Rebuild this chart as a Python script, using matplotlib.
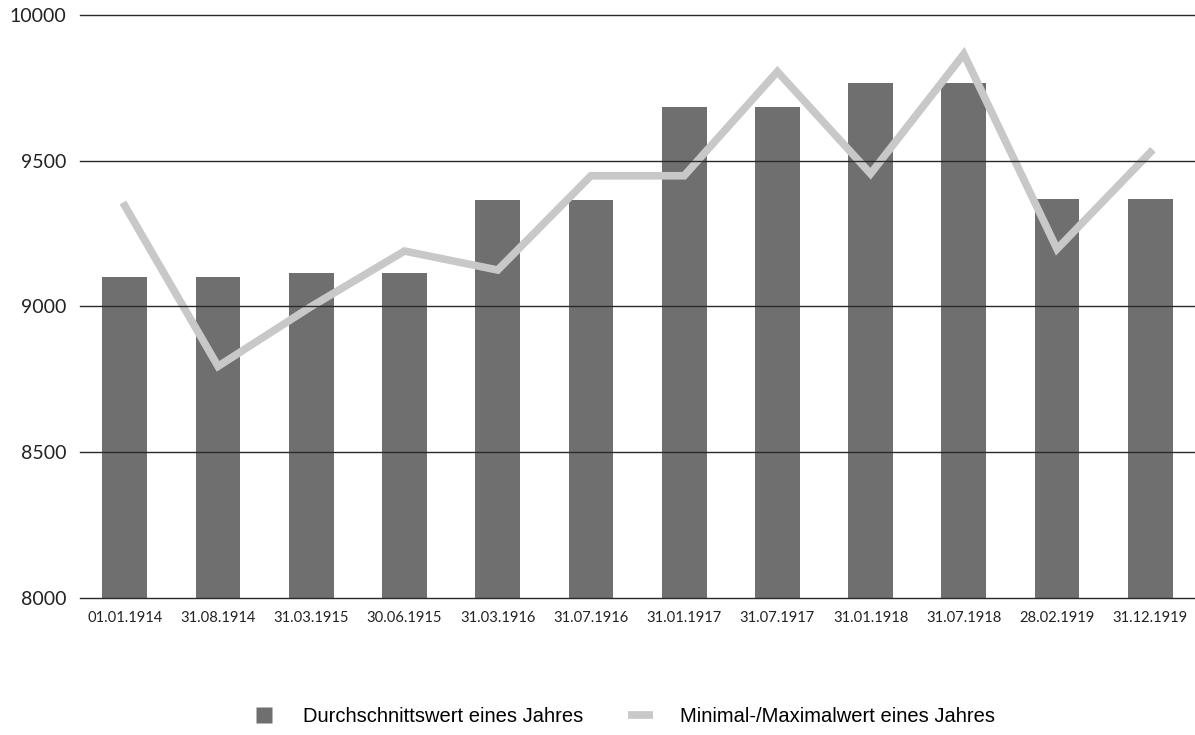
import numpy as np
import matplotlib.pyplot as plt
from matplotlib.lines import Line2D

# Stichtage
dates = ['01.01.1914', '31.08.1914', '31.03.1915', '30.06.1915', '31.03.1916',
         '31.07.1916', '31.01.1917', '31.07.1917', '31.01.1918', '31.07.1918',
         '28.02.1919', '31.12.1919']
# Durchschnittswert eines Jahres (bars)
avg_vals = [9100, 9100, 9115, 9115, 9365, 9365, 9685, 9685, 9767, 9767, 9368, 9368]
# Minimal-/Maximalwert eines Jahres (line)
minmax_vals = [9345, 8795, 9000, 9190, 9125, 9448, 9448, 9805, 9455, 9865, 9197, 9528]

yticks = [8000, 8500, 9000, 9500, 10000]

bar_color = '#6f6f6f'
line_color = '#c8c8c8'

fig = plt.figure(figsize=(11.95, 7.35), dpi=100)
ax = fig.add_axes([0.067, 0.186, 0.933, 0.794])

x = np.arange(len(dates))
ax.bar(x, [v - 8000 for v in avg_vals], bottom=8000, width=0.48,
       color=bar_color, zorder=1)
ax.plot(x, minmax_vals, color=line_color, linewidth=5.5, zorder=2,
        solid_joinstyle='miter')

for t in yticks:
    ax.axhline(t, color='#2a2a2a', linewidth=1.0, zorder=3, clip_on=False)

ax.set_xlim(-0.48, 11.48)
ax.set_ylim(8000, 10000)
ax.set_yticks(yticks)
ax.set_yticklabels([str(t) for t in yticks], fontsize=14, color='#222222',
                   family=['Lato', 'DejaVu Sans'])
ax.set_xticks(x)
ax.set_xticklabels(dates, fontsize=10.6, color='#222222',
                   family=['Lato', 'DejaVu Sans'])
ax.tick_params(axis='both', length=0)
ax.tick_params(axis='y', pad=10)
ax.tick_params(axis='x', pad=9)
for s in ax.spines.values():
    s.set_visible(False)

handles = [Line2D([0], [0], linestyle='none', marker='s', markersize=11,
                  markerfacecolor=bar_color, markeredgecolor='none'),
           Line2D([0], [0], color=line_color, linewidth=5.5, solid_capstyle='butt')]
labels = ['Durchschnittswert eines Jahres', 'Minimal-/Maximalwert eines Jahres']
fig.legend(handles, labels, loc='center', bbox_to_anchor=(0.5215, 0.025), ncol=2,
           frameon=False, handlelength=1.24, handletextpad=1.34,
           columnspacing=2.2, prop={'family': 'Liberation Sans', 'size': 14.5})

fig.savefig('out.png', dpi=100, facecolor='white')
